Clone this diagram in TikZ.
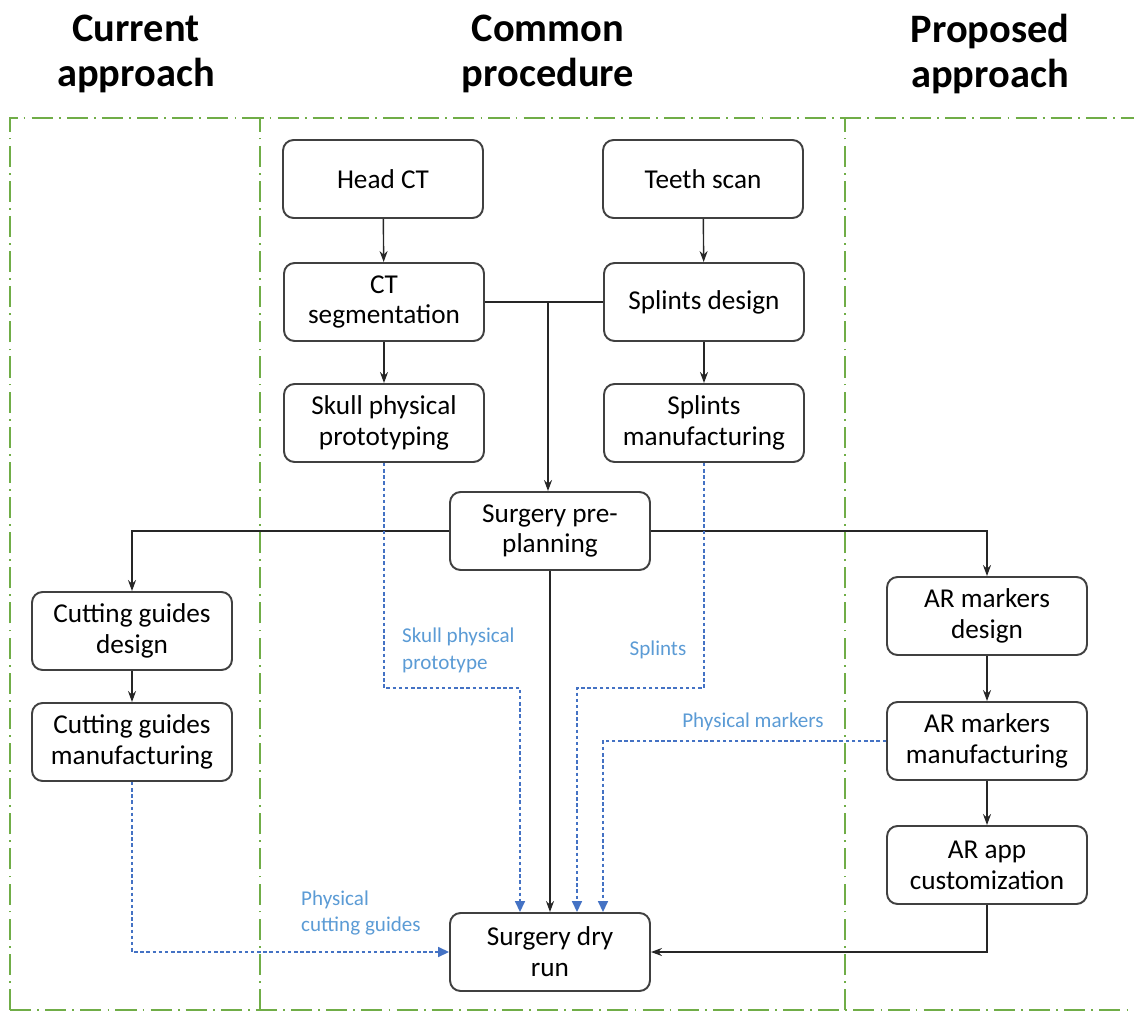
\documentclass[tikz,border=0pt]{standalone}
\usepackage{fontspec}
\setmainfont{Carlito}
\usetikzlibrary{arrows.meta, positioning, calc}
\definecolor{boxgray}{HTML}{404040}
\definecolor{framegreen}{HTML}{70AD47}
\definecolor{linkblue}{HTML}{4472C4}
\definecolor{labelblue}{HTML}{5B9BD5}

\begin{document}
\begin{tikzpicture}[x=0.02cm, y=-0.02cm,
    stage/.style={rectangle, rounded corners=6pt, draw=boxgray, line width=1.1pt, minimum width=4cm, minimum height=1.56cm, align=center, font=\fontsize{15.5}{17.5}\selectfont},
    header/.style={font=\fontsize{23}{25.5}\selectfont\bfseries, align=center},
    frame/.style={draw=framegreen, line width=1.3pt, dash pattern=on 12pt off 3.5pt on 1pt off 3.5pt},
    arrow/.style={-{Stealth[length=2.2mm, width=1.6mm]}, line width=0.8pt, color=black!85},
    link/.style={-{Triangle[length=2.2mm, width=2mm]}, line width=0.9pt, color=linkblue, dash pattern=on 2pt off 1.5pt},
    tag/.style={font=\fontsize{12}{15.3}\selectfont, color=labelblue, align=left}
]
\useasboundingbox (0,0) rectangle (1134,1011);

% Column frames
\draw[frame] (10,1010) -- (10,118) -- (1134,118);
\draw[frame] (260,1010) -- (260,118);
\draw[frame] (845,1010) -- (845,118);
\draw[frame] (10,1010) -- (1134,1010);

% Column headers
\node[header] (hcurrent) at (136,54) {Current\\approach};
\node[header] (hcommon) at (548,54) {Common\\procedure};
\node[header] (hproposed) at (990,54) {Proposed\\approach};

% Common procedure
\node[stage] (headct) at (383,179) {Head CT};
\node[stage] (teeth) at (703,179) {Teeth scan};
\node[stage] (ctseg) at (384,302) {CT\\segmentation};
\node[stage] (splintsdes) at (704,302) {Splints design};
\node[stage] (skull) at (384,423) {Skull physical\\prototyping};
\node[stage] (splintsman) at (704,423) {Splints\\manufacturing};
\node[stage] (preplan) at (550,531) {Surgery pre-\\planning};
\node[stage] (dryrun) at (550,952) {Surgery dry\\run};

% Current approach
\node[stage] (cgdesign) at (132,631) {Cutting guides\\design};
\node[stage] (cgman) at (132,742) {Cutting guides\\manufacturing};

% Proposed approach
\node[stage] (ardesign) at (987,616) {AR markers\\design};
\node[stage] (arman) at (987,741) {AR markers\\manufacturing};
\node[stage] (arapp) at (987,865) {AR app\\customization};

% Arrows
\draw[arrow] (headct) -- (ctseg);
\draw[arrow] (teeth) -- (splintsdes);
\draw[arrow] (ctseg) -- (skull);
\draw[arrow] (splintsdes) -- (splintsman);
\draw[line width=0.8pt, color=black!85] (ctseg.east) -- (splintsdes.west);
\coordinate (joint) at (548,302);
\draw[arrow] (joint) -- (joint |- preplan.north);
\draw[arrow] (preplan.west) -| (cgdesign.north);
\draw[arrow] (preplan.east) -| (ardesign.north);
\draw[arrow] (preplan) -- (dryrun);
\draw[arrow] (cgdesign) -- (cgman);
\draw[arrow] (ardesign) -- (arman);
\draw[arrow] (arman) -- (arapp);
\draw[arrow] (arapp.south) |- (dryrun.east);

% Physical items
\coordinate (skullbend) at (520,688);
\coordinate (splintbend) at (577,688);
\coordinate (markerbend) at (603,741);
\draw[link] (cgman.south) |- (dryrun.west);
\draw[link] (skull.south) |- (skullbend) -- (skullbend |- dryrun.north);
\draw[link] (splintsman.south) |- (splintbend) -- (splintbend |- dryrun.north);
\draw[link] (arman.west) -- (markerbend) -- (markerbend |- dryrun.north);

% Labels
\node[tag, anchor=west] (skulltag) at (396,650) {Skull physical\\prototype};
\node[tag] (splinttag) at (658,650) {Splints};
\node[tag] (markertag) at (753,722) {Physical markers};
\node[tag, anchor=west] (guidetag) at (295,913) {Physical\\cutting guides};

\end{tikzpicture}
\end{document}
